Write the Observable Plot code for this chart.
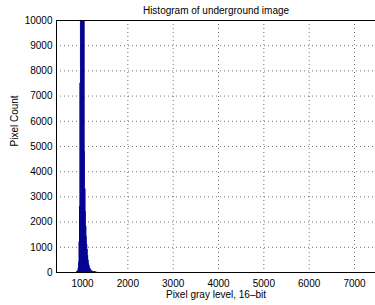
<!DOCTYPE html>
<html><head><meta charset="utf-8">
<script src="https://cdn.jsdelivr.net/npm/d3@7"></script>
<script src="https://cdn.jsdelivr.net/npm/@observablehq/plot@0.6"></script>
<style>
body{margin:0;background:#fff;}
svg{font-family:"Liberation Sans",Arial,Helvetica,sans-serif;}
</style>
</head><body><div id="chart"></div>
<script>
const binStart = [880,890,900,910,920,930,940,950,960,970,980,990,1000,1010,1020,1030,1040,1050,1060,1070,1080,1090,1100,1110,1120,1130,1140,1150,1160,1170,1180,1190,1200,1210,1220,1230,1240,1260,1280,1300,1330];
const binCounts = [10,30,70,160,400,1200,2600,7500,18000,32000,45000,52000,50000,42000,30000,16000,12000,4800,3300,2400,1800,1400,1100,900,650,480,350,260,190,140,100,80,60,45,35,30,25,15,10,6,3];
const binWidth = 10;
const xTicks = [1000,2000,3000,4000,5000,6000,7000];
const yTicks = [0,1000,2000,3000,4000,5000,6000,7000,8000,9000,10000];
const xDomain = [426, 7463];
const yDomain = [0, 10000];
const title = "Histogram of underground image";
const xLabel = "Pixel gray level, 16\u2013bit";
const yLabel = "Pixel Count";

const bins = binStart.map((s, i) => ({x1: s, x2: s + binWidth, y: binCounts[i]}));
const fmt = d => String(d);

const chart = Plot.plot({
  width: 375,
  height: 305,
  marginLeft: 56,
  marginRight: 0,
  marginTop: 20,
  marginBottom: 33,
  style: {fontSize: "10px", fontFamily: "Liberation Sans, Arial, sans-serif", color: "#000", background: "#fff"},
  x: {domain: xDomain},
  y: {domain: yDomain},
  marks: [
    Plot.gridX(xTicks, {stroke: "#000", strokeOpacity: 0.55, strokeDasharray: "1,3"}),
    Plot.gridY(yTicks, {stroke: "#000", strokeOpacity: 0.55, strokeDasharray: "1,3"}),
    Plot.rectY(bins, {x1: "x1", x2: "x2", y: "y", fill: "#00008f", stroke: "#00008f", strokeWidth: 0.5, clip: true}),
    Plot.ruleY([yDomain[0]], {stroke: "#000", strokeWidth: 1}),
    Plot.ruleY([yDomain[1]], {stroke: "#000", strokeWidth: 1}),
    Plot.ruleX([xDomain[0]], {stroke: "#000", strokeWidth: 1}),
    Plot.axisX(xTicks, {tickSize: 0, tickPadding: 7, tickFormat: fmt, label: null, fill: "#000"}),
    Plot.axisY(yTicks, {tickSize: 0, tickPadding: 4, tickFormat: fmt, label: null, fill: "#000"}),
    Plot.text([title], {frameAnchor: "top", dy: -10, lineAnchor: "middle", fontSize: 10, fill: "#000"}),
    Plot.text([xLabel], {frameAnchor: "bottom", dy: 22, lineAnchor: "middle", fontSize: 10, fill: "#000"}),
    Plot.text([yLabel], {frameAnchor: "left", dx: -42, rotate: -90, lineAnchor: "middle", fontSize: 10, fill: "#000"})
  ]
});
document.getElementById("chart").appendChild(chart);
</script>
</body></html>
